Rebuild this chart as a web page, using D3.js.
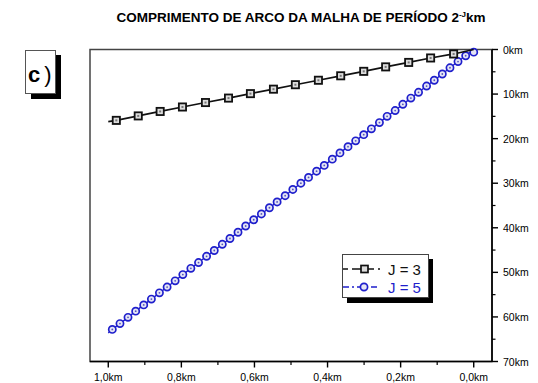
<!DOCTYPE html>
<html>
<head>
<meta charset="utf-8">
<script src="https://cdn.jsdelivr.net/npm/d3@7"></script>
<style>
  body { margin: 0; background: #fff; }
  svg { display: block; font-family: "Liberation Sans", Arial, sans-serif; }
</style>
</head>
<body>
<svg width="538" height="383"></svg>
<script>
// J = 3 : line ends plus marker points (km along x, arc length km)
const j3Km = [1.0, 0.978, 0.918, 0.858, 0.797, 0.734, 0.671, 0.611, 0.548, 0.488, 0.425, 0.364, 0.301, 0.241, 0.178, 0.118, 0.055, 0.0];
const j3Arc = [16.2, 15.9, 14.9, 13.9, 12.9, 11.9, 10.9, 9.9, 8.9, 7.9, 6.9, 5.9, 4.9, 3.9, 2.9, 1.9, 1.0, 0.0];

// J = 5
const j5Km = [1.0, 0.989, 0.968, 0.946, 0.925, 0.903, 0.882, 0.860, 0.839, 0.817, 0.796,
  0.774, 0.753, 0.731, 0.710, 0.688, 0.667, 0.645, 0.624, 0.602, 0.581,
  0.559, 0.538, 0.516, 0.495, 0.473, 0.452, 0.430, 0.409, 0.387, 0.366,
  0.344, 0.323, 0.301, 0.280, 0.258, 0.237, 0.215, 0.194, 0.172, 0.151,
  0.129, 0.108, 0.086, 0.065, 0.043, 0.022, 0.0];
const j5Arc = [63.6, 62.8, 61.5, 60.1, 58.7, 57.3, 56.0, 54.6, 53.3, 51.9, 50.5,
  49.1, 47.8, 46.4, 45.1, 43.7, 42.4, 41.0, 39.6, 38.2, 36.9,
  35.5, 34.2, 32.8, 31.4, 30.0, 28.7, 27.3, 26.0, 24.6, 23.2,
  21.8, 20.5, 19.1, 17.8, 16.4, 15.0, 13.7, 12.3, 10.9, 9.6,
  8.2, 6.9, 5.5, 4.1, 2.7, 1.4, 0.0];

const xTicks = [1.0, 0.8, 0.6, 0.4, 0.2, 0.0];
const xMinor = [0.9, 0.7, 0.5, 0.3, 0.1];
const yTicks = [0, 10, 20, 30, 40, 50, 60, 70];
const yMinor = [5, 15, 25, 35, 45, 55, 65];
const seriesNames = ["J = 3", "J = 5"];

const LEFT = 90, RIGHT = 492, TOP = 49.5, BOTTOM = 361.5;
const BLUE = "#1f1fcc";

const svg = d3.select("svg");
const x = d3.scaleLinear().domain([1.05, -0.05]).range([LEFT, RIGHT]);
const y = d3.scaleLinear().domain([0, 70]).range([TOP, BOTTOM]);

// title
const title = svg.append("text")
  .attr("x", 301).attr("y", 22)
  .attr("text-anchor", "middle")
  .attr("font-size", 13.5).attr("font-weight", "bold")
  .text("COMPRIMENTO DE ARCO DA MALHA DE PERÍODO 2");
title.append("tspan").attr("dy", -5).attr("font-size", 8).text("-J");
title.append("tspan").attr("dy", 5).text("km");

// "c )" tag with shadow
svg.append("rect").attr("x", 31).attr("y", 55).attr("width", 30).attr("height", 44).attr("fill", "#000");
svg.append("rect").attr("x", 25.5).attr("y", 50.5).attr("width", 30).attr("height", 43)
  .attr("fill", "#fff").attr("stroke", "#555").attr("stroke-width", 1);
const tag = svg.append("text").attr("x", 28).attr("y", 82).attr("font-size", 22);
tag.append("tspan").attr("font-weight", "bold").text("c");
tag.append("tspan").attr("dx", 4).text(")");

// frame
svg.append("rect")
  .attr("x", LEFT).attr("y", TOP).attr("width", RIGHT - LEFT).attr("height", BOTTOM - TOP)
  .attr("fill", "none").attr("stroke", "#444").attr("stroke-width", 1.5);

// bottom axis
const xAxis = svg.append("g").attr("transform", `translate(0,${BOTTOM})`);
xAxis.append("line").attr("x1", LEFT).attr("x2", RIGHT).attr("stroke", "#000").attr("stroke-width", 1.6);
xAxis.selectAll("line.maj").data(xTicks).join("line").attr("class", "maj")
  .attr("x1", x).attr("x2", x).attr("y1", 0).attr("y2", 6)
  .attr("stroke", "#000").attr("stroke-width", 1.4);
xAxis.selectAll("line.min").data(xMinor).join("line").attr("class", "min")
  .attr("x1", x).attr("x2", x).attr("y1", 0).attr("y2", 3.5)
  .attr("stroke", "#000").attr("stroke-width", 1.2);
xAxis.selectAll("text").data(xTicks).join("text")
  .attr("x", x).attr("y", 19)
  .attr("text-anchor", "middle").attr("font-size", 10.5)
  .text((d) => d.toFixed(1).replace(".", ",") + "km");

// right axis
const yAxis = svg.append("g").attr("transform", `translate(${RIGHT},0)`);
yAxis.append("line").attr("y1", TOP).attr("y2", BOTTOM).attr("stroke", "#000").attr("stroke-width", 1.6);
yAxis.selectAll("line.maj").data(yTicks).join("line").attr("class", "maj")
  .attr("y1", y).attr("y2", y).attr("x1", 0).attr("x2", 6)
  .attr("stroke", "#000").attr("stroke-width", 1.4);
yAxis.selectAll("line.min").data(yMinor).join("line").attr("class", "min")
  .attr("y1", y).attr("y2", y).attr("x1", 0).attr("x2", 3.5)
  .attr("stroke", "#000").attr("stroke-width", 1.2);
yAxis.selectAll("text").data(yTicks).join("text")
  .attr("x", 11).attr("y", (d) => y(d) + 4)
  .attr("font-size", 10.5)
  .text((d) => d + "km");

const line = d3.line().x((d) => x(d[0])).y((d) => y(d[1]));
const j3 = j3Km.map((d, i) => [d, j3Arc[i]]);
const j5 = j5Km.map((d, i) => [d, j5Arc[i]]);

// J = 5 series
svg.append("path").datum(j5).attr("d", line)
  .attr("fill", "none").attr("stroke", BLUE).attr("stroke-width", 1.4);
const j5Marks = svg.append("g").selectAll("g").data(j5.slice(1, -1)).join("g")
  .attr("transform", (d) => `translate(${x(d[0])},${y(d[1])})`);
j5Marks.append("circle").attr("r", 3.6)
  .attr("fill", "#e4e4f4").attr("stroke", BLUE).attr("stroke-width", 1.7);
j5Marks.append("circle").attr("r", 0.9).attr("fill", "#5555bb");
// last blue marker at origin
svg.append("circle").attr("cx", x(0.0)).attr("cy", y(0.6)).attr("r", 3.6)
  .attr("fill", "#e4e4f4").attr("stroke", BLUE).attr("stroke-width", 1.7);

// J = 3 series
svg.append("path").datum(j3).attr("d", line)
  .attr("fill", "none").attr("stroke", "#111").attr("stroke-width", 1.7);
const j3Marks = svg.append("g").selectAll("g").data(j3.slice(1, -1)).join("g")
  .attr("transform", (d) => `translate(${x(d[0])},${y(d[1])})`);
j3Marks.append("rect").attr("x", -3.6).attr("y", -3.6).attr("width", 7.2).attr("height", 7.2)
  .attr("fill", "#ddd").attr("stroke", "#111").attr("stroke-width", 1.8);
j3Marks.append("rect").attr("x", -1).attr("y", -1).attr("width", 2).attr("height", 2).attr("fill", "#777");

// legend
const legend = svg.append("g");
legend.append("rect").attr("x", 347).attr("y", 259).attr("width", 86).attr("height", 44).attr("fill", "#000");
legend.append("rect").attr("x", 342.5).attr("y", 254.5).attr("width", 86).attr("height", 43)
  .attr("fill", "#fff").attr("stroke", "#444").attr("stroke-width", 1);
const rows = legend.selectAll("g").data(seriesNames).join("g")
  .attr("transform", (d, i) => `translate(0,${i ? 287 : 269})`);
rows.append("line").attr("x1", 343).attr("x2", 380)
  .attr("stroke", (d, i) => (i ? BLUE : "#111"))
  .attr("stroke-width", 1.6)
  .attr("stroke-dasharray", (d, i) => (i ? "6,3,2,3" : "5,4,22,4"));
rows.filter((d, i) => i === 0).append("rect")
  .attr("x", 361).attr("y", -3.5).attr("width", 7).attr("height", 7)
  .attr("fill", "#ddd").attr("stroke", "#111").attr("stroke-width", 1.7);
rows.filter((d, i) => i === 1).append("circle")
  .attr("cx", 364).attr("cy", 0).attr("r", 3.6)
  .attr("fill", "#e4e4f4").attr("stroke", BLUE).attr("stroke-width", 1.7);
rows.append("text").attr("x", 388).attr("y", 5.5)
  .attr("font-size", 15)
  .attr("fill", (d, i) => (i ? BLUE : "#111"))
  .text((d) => d);
</script>
</body>
</html>
